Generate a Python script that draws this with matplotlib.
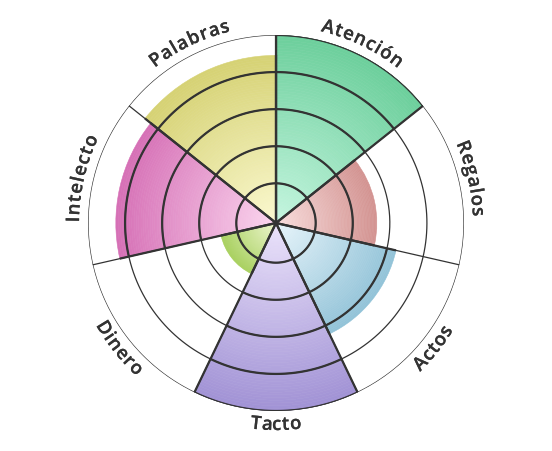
import numpy as np
import matplotlib
matplotlib.use("Agg")
import matplotlib.pyplot as plt
import matplotlib.patheffects as pe
from matplotlib.colors import LinearSegmentedColormap
from matplotlib.font_manager import FontProperties, fontManager

# data
labels = ["Atención", "Regalos", "Actos", "Tacto", "Dinero", "Intelecto", "Palabras"]
values = [5.0, 2.65, 3.25, 5.0, 1.45, 4.25, 4.45]
inner_colors = ["#c6f6e0", "#f9dedd", "#e8f5fb", "#ebe3fb", "#eef6cf", "#fbd6ef", "#fbf9d0"]
outer_colors = ["#6ccf9c", "#d39391", "#92c3d8", "#a192d5", "#a9d15f", "#d670b6", "#d6d274"]
rings = [1, 2, 3, 4, 5]

line_col = "#333333"
rmin = -0.07
rmax = 5.0
R_PX = 188.0

fig = plt.figure(figsize=(5.52, 4.52), dpi=100)
ax = fig.add_axes([(276 - R_PX) / 552, (228 - R_PX) / 452, 2 * R_PX / 552, 2 * R_PX / 452],
                  projection="polar")
ax.set_theta_zero_location("N")
ax.set_theta_direction(-1)
ax.set_ylim(rmin, rmax)
ax.grid(False)
ax.set_xticks([])
ax.set_yticks([])
ax.spines["polar"].set_visible(False)
ax.patch.set_alpha(0)

n = len(labels)
step = 2 * np.pi / n
nseg = 70

# gradient sectors, built from thin stacked bands
for i, v in enumerate(values):
    cm = LinearSegmentedColormap.from_list("c%d" % i, [inner_colors[i], outer_colors[i]])
    edges = np.linspace(rmin, v, nseg + 1)
    mids = (edges[:-1] + edges[1:]) / 2
    cols = cm((mids - rmin) / (v - rmin))
    ax.bar(np.full(nseg, (i + 0.5) * step), np.diff(edges), width=step, bottom=edges[:-1],
           color=cols, edgecolor=cols, linewidth=0.4, align="center", zorder=1)

# thin grid
full = np.linspace(0, 2 * np.pi, 400)
for k in rings:
    ax.plot(full, np.full_like(full, k), color=line_col, lw=0.9, zorder=2)
for i in range(n):
    ax.plot([i * step, i * step], [rmin, rmax], color=line_col, lw=0.9, zorder=2)

# thick lines over the filled sectors
for i, v in enumerate(values):
    t0, t1 = i * step, (i + 1) * step
    arc = np.linspace(t0, t1, 60)
    for k in rings:
        if k <= v + 1e-6:
            ax.plot(arc, np.full_like(arc, k), color=line_col, lw=1.6, zorder=3,
                    solid_capstyle="butt")
    for t in (t0, t1):
        ax.plot([t, t], [rmin, v], color=line_col, lw=1.6, zorder=3,
                solid_capstyle="butt")

# pick the Open Sans closest to semibold
cands = [f for f in fontManager.ttflist if f.name == "Open Sans" and f.style == "normal"]
if cands:
    best = min(cands, key=lambda f: abs((f.weight if isinstance(f.weight, int) else 400) - 600))
    fp = FontProperties(fname=best.fname, size=13.4)
    w = best.weight if isinstance(best.weight, int) else 400
    stroke = 0.6 if w < 550 else 0.15
else:
    fp = FontProperties(family="DejaVu Sans", weight="bold", size=12.5)
    stroke = 0.0
effects = [pe.withStroke(linewidth=stroke, foreground=line_col)] if stroke > 0 else []

renderer = fig.canvas.get_renderer()


def text_w(s):
    if not s:
        return 0.0
    w, h, d = renderer.get_text_width_height_descent(s, fp, ismath=False)
    return w


def px_to_r(px):
    return rmin + px / R_PX * (rmax - rmin)


tracking = 1.0
for i, lab in enumerate(labels):
    tc = (i + 0.5) * step
    deg = np.degrees(tc)
    bottom = 100 < deg < 260
    r_px = 207.0 if bottom else 197.0
    total = text_w(lab) + tracking * (len(lab) - 1)
    for j, ch in enumerate(lab):
        cx = text_w(lab[:j]) + text_w(ch) / 2 + tracking * j - total / 2
        da = cx / r_px
        if bottom:
            th = tc - da
            rot = 180 - np.degrees(th)
        else:
            th = tc + da
            rot = -np.degrees(th)
        ax.text(th, px_to_r(r_px), ch, fontproperties=fp, color=line_col,
                rotation=rot, rotation_mode="anchor", ha="center", va="baseline",
                clip_on=False, zorder=5, path_effects=effects)

fig.savefig("out.png", dpi=100)
